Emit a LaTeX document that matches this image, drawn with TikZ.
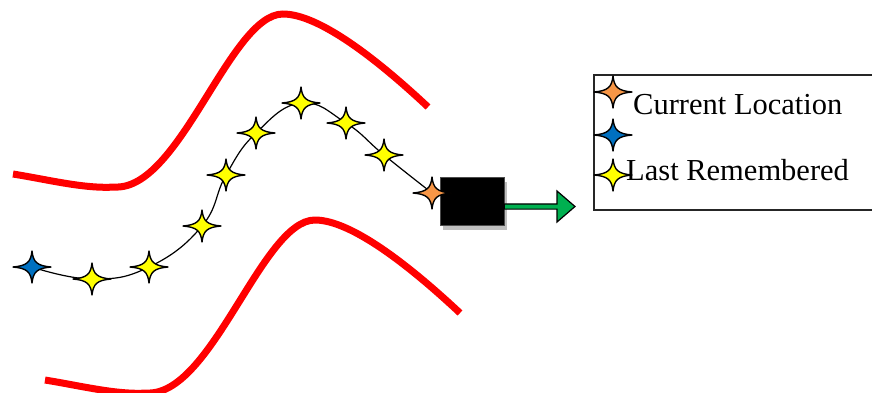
\documentclass[tikz,border=0pt]{standalone}
\usepackage{fontspec}
\setmainfont{Liberation Serif}
\usetikzlibrary{calc}
\definecolor{starorange}{HTML}{F79646}
\definecolor{starblue}{HTML}{0070C0}
\definecolor{staryellow}{HTML}{FFFF00}
\definecolor{arrowgreen}{HTML}{00B050}
\definecolor{wallred}{HTML}{FF0000}
\definecolor{shadowgray}{HTML}{BFBFBF}
\tikzset{
  pics/sparkle/.style={code={
    \filldraw[fill=#1,draw=black,line width=1.4pt,line join=round]
      (19,0) .. controls (5,1.2) and (1.2,5) .. (0,16)
      .. controls (-1.2,5) and (-5,1.2) .. (-19,0)
      .. controls (-5,-1.2) and (-1.2,-5) .. (0,-16)
      .. controls (1.2,-5) and (5,-1.2) .. (19,0) -- cycle;
  }},
  wall/.style={draw=wallred,line width=7pt},
  trail/.style={draw=black,line width=1.2pt},
  legendtext/.style={font=\fontsize{30.5}{34}\selectfont,anchor=base west,inner sep=0pt},
}
\begin{document}
\begin{tikzpicture}[x=1pt,y=-1pt]
\useasboundingbox (0,0) rectangle (872,392);
% red walls
\foreach \dx/\dy in {0/0,32/206} {
\begin{scope}[shift={(\dx,\dy)}]
\path[wall] (13,174) .. controls (50,180) and (85,189) .. (115,187)
  .. controls (180,190) and (230,14) .. (283,14)
  .. controls (320,14) and (380,62) .. (428,107);
\end{scope}
}
% trail points
\coordinate (s1) at (32,267);
\coordinate (s2) at (92,279);
\coordinate (s3) at (149,267);
\coordinate (s4) at (202,226);
\coordinate (s5) at (226,175);
\coordinate (s6) at (256,133);
\coordinate (s7) at (301,103);
\coordinate (s8) at (346,123);
\coordinate (s9) at (384,155);
\coordinate (s10) at (432,193);
\path[trail] plot[smooth,tension=0.75] coordinates {(s1) (s2) (s3) (s4) (s5) (s6) (s7) (s8) (s9) (s10)};
% robot box with shadow
\fill[shadowgray] (443,182) rectangle (507,230);
\node[fill=black,draw=black!70,line width=0.5pt,minimum width=64pt,minimum height=48pt,inner sep=0pt] (robot) at (472,201) {};
% stars
\pic at (s1) {sparkle=starblue};
\foreach \s in {s2,s3,s4,s5,s6,s7,s8,s9} {\pic at (\s) {sparkle=staryellow};}
\pic at (s10) {sparkle=starorange};
% arrow
\coordinate (astart) at (robot.east |- 0,206.5);
\coordinate (atip) at (575,206.5);
\filldraw[fill=arrowgreen,draw=black,line width=1.2pt,line join=miter]
  ($(astart)+(0,-2.6)$) -- ($(atip)+(-18,-2.6)$) -- ($(atip)+(-18,-15.5)$) -- (atip)
  -- ($(atip)+(-18,15.5)$) -- ($(atip)+(-18,2.6)$) -- ($(astart)+(0,2.6)$) -- cycle;
% legend (open on the right, cut by the picture edge)
\coordinate (lgtr) at (872,75);
\coordinate (lgtl) at (594,75);
\coordinate (lgbl) at (594,210);
\coordinate (lgbr) at (872,210);
\draw[black!85,line width=1.6pt] (lgtr) -- (lgtl) -- (lgbl) -- (lgbr);
\coordinate (l1) at (613,92);
\coordinate (l2) at (613,135);
\coordinate (l3) at (613,175);
\pic at (l1) {sparkle=starorange};
\pic at (l2) {sparkle=starblue};
\pic at (l3) {sparkle=staryellow};
\node[legendtext] (t1) at (633,114) {Current Location};
\node[legendtext] (t3) at (626,180) {Last Remembered};
\end{tikzpicture}
\end{document}
